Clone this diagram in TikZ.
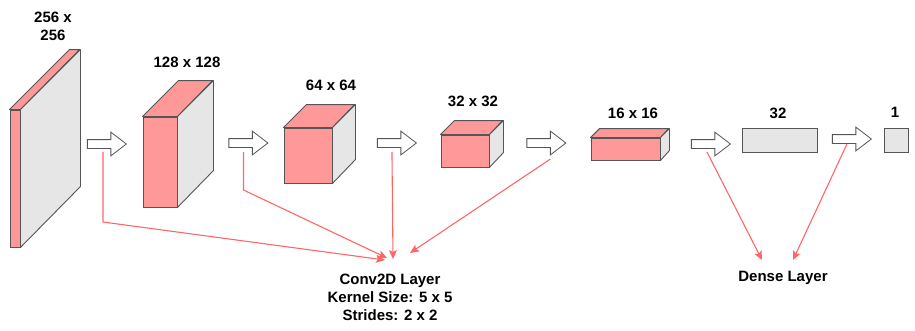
\documentclass[tikz,border=0pt]{standalone}
\usepackage{fontspec}
\setmainfont{Liberation Sans}
\usetikzlibrary{shapes.arrows,arrows.meta,calc}

\definecolor{pinkface}{HTML}{FF9999}
\definecolor{grayface}{HTML}{E6E6E6}
\definecolor{edgegray}{HTML}{555555}
\definecolor{linkred}{HTML}{FF6666}

\begin{document}
\begin{tikzpicture}[x=1pt,y=-1pt]
        \tikzstyle{every node}=[font=\fontsize{15}{18}\selectfont\bfseries]
        \tikzstyle{front}=[draw=edgegray,fill=pinkface,inner sep=0,line width=0.9pt]
        \tikzstyle{face}=[draw=edgegray,line width=0.9pt,line join=round]
        \tikzstyle{flow}=[single arrow,draw=edgegray,fill=white,line width=0.8pt,inner xsep=0,inner ysep=4pt,minimum height=39pt,single arrow head extend=7.5pt,single arrow tip angle=75]
        \tikzstyle{dense}=[draw=edgegray,fill=grayface,inner sep=0,line width=0.9pt]
        \tikzstyle{link}=[draw=linkred,line width=1.1pt,-{Stealth[length=9pt,width=8pt,inset=2pt]}]

        \useasboundingbox (0,0) rectangle (915,330);

        % feature maps: name/x/y/width/height/depth
        \foreach \n/\x/\y/\w/\h/\d in {c1/15/178.5/10/137/60, c2/160/162/34/90/36, c3/308/155.5/48/55/23, c4/465/151/48/32/14, c5/625.5/149/69/22/9} {
            \node[front,minimum width=\w pt,minimum height=\h pt] (\n) at (\x,\y) {};
            \draw[face,fill=pinkface] (\n.north west) -- ++(\d,-\d) -- ++(\w,0) -- (\n.north east) -- cycle;
            \draw[face,fill=grayface] (\n.north east) -- ++(\d,-\d) -- ++(0,\h) -- (\n.south east) -- cycle;
        }

        \node[dense,minimum width=75pt,minimum height=24pt] (d32) at (779.5,140) {};
        \node[dense,minimum width=24pt,minimum height=24pt] (d1) at (896,140) {};

        % sizes
        \node[align=center] (l1) at (53,26) {256 x\\256};
        \node (l2) at (187,62) {128 x 128};
        \node (l3) at (331,85) {64 x 64};
        \node (l4) at (473,101) {32 x 32};
        \node (l5) at (633,113) {16 x 16};
        \node (l6) at (778,113) {32};
        \node (l7) at (895,112) {1};

        % block arrows
        \node[flow] (a1) at (104,144) {};
        \node[flow] (a2) at (245.5,143) {};
        \node[flow] (a3) at (394,143) {};
        \node[flow] (a4) at (543.5,143) {};
        \node[flow] (a5) at (708,144) {};
        \node[flow] (a6) at (849,139) {};

        \node[align=center] (conv) at (390,297) {Conv2D Layer\\Kernel Size: 5 x 5\\Strides: 2 x 2};
        \node (dl) at (783,278) {Dense Layer};

        \coordinate (cin1) at (385,260);
        \coordinate (cin2) at (387,258);
        \coordinate (cin3) at (393,259);
        \coordinate (cin4) at (410,253);
        \coordinate (din1) at (762,260);
        \coordinate (din2) at (793,260);

        \draw[link] ($(a1.west)+(16,8)$) -- ++(0,70) -- (cin1);   % a1 -> conv
        \draw[link] ($(a2.west)+(15,9)$) -- ++(0,38) -- (cin2);   % a2 -> conv
        \draw[link] ($(a3.west)+(15,9)$) -- (cin3);               % a3 -> conv
        \draw[link] ($(a4.west)+(24,16)$) -- (cin4);              % a4 -> conv
        \draw[link] ($(a5.west)+(16,8)$) -- (din1);               % a5 -> dense
        \draw[link] ($(a6.west)+(15,5)$) -- (din2);               % a6 -> dense
\end{tikzpicture}
\end{document}
